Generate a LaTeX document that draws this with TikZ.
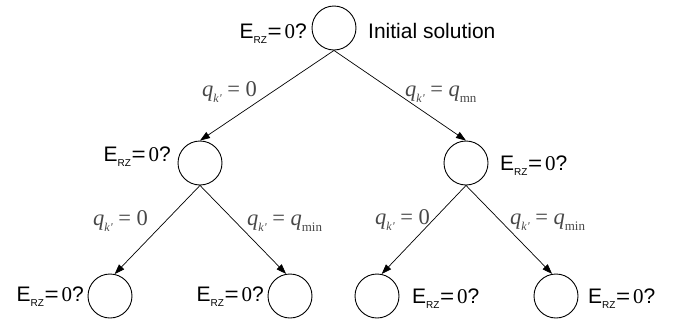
\documentclass[tikz,border=0pt]{standalone}
\usepackage{fontspec}
\setmainfont{Liberation Sans}
\newfontfamily\lblserif{Liberation Serif}
\usetikzlibrary{arrows.meta}
\newcommand\erzlbl{E\raisebox{-0.28em}{\fontsize{10}{10}\selectfont RZ}\kern0.5pt\scalebox{1.15}[1]{=}\kern3pt{\lblserif 0}?}
\newcommand\qkk{{\itshape q}\raisebox{-0.3em}{\fontsize{12}{12}\selectfont\itshape k\kern0.3pt'}}
\tikzset{
  state/.style={circle,draw=black,line width=0.9pt,minimum size=44pt,inner sep=0pt},
  erz/.style={inner sep=0pt,font=\fontsize{21}{25}\selectfont,text=black},
  qlbl/.style={inner sep=0pt,font=\lblserif\fontsize{22.5}{26}\selectfont,text=black!72},
  branch/.style={draw=black,line width=0.7pt,-{Triangle[length=10pt,width=7pt]}}
}
\begin{document}
\begin{tikzpicture}[x=1pt,y=-1pt]
\useasboundingbox (0,0) rectangle (673,322);
% states
\node[state] (root) at (334,28) {};
\node[state] (ml) at (200,163) {};
\node[state] (mr) at (466,163) {};
\node[state] (b1) at (110,296) {};
\node[state] (b2) at (290,296) {};
\node[state] (b3) at (377,296) {};
\node[state] (b4) at (556,296) {};
% state labels
\node[erz,anchor=base east] (lroot) at (307,38) {\erzlbl};
\node[erz,anchor=base west] (linit) at (368,38) {Initial solution};
\node[erz,anchor=base east] (lml) at (171,161) {\erzlbl};
\node[erz,anchor=base west] (lmr) at (500,170) {\erzlbl};
\node[erz,anchor=base east] (lb1) at (84,301) {\erzlbl};
\node[erz,anchor=base east] (lb2) at (264,301) {\erzlbl};
\node[erz,anchor=base west] (lb3) at (412,303) {\erzlbl};
\node[erz,anchor=base west] (lb4) at (588,303) {\erzlbl};
% branches
\draw[branch] (root.south) -- (ml.north);
\draw[branch] (root.south) -- (mr.north);
\draw[branch] (ml.south) -- (b1.78);
\draw[branch] (ml.south) -- (b2.100);
\draw[branch] (mr.south) -- (b3.78);
\draw[branch] (mr.south) -- (b4.100);
% branch labels
\node[qlbl,anchor=base west] (q1) at (202,96) {\qkk\ = 0};
\node[qlbl,anchor=base west] (q2) at (405,96) {\qkk\ = {\itshape q}\raisebox{-0.3em}{\fontsize{13}{13}\selectfont mn}};
\node[qlbl,anchor=base west] (q3) at (93,225) {\qkk\ = 0};
\node[qlbl,anchor=base west] (q4) at (247,225) {\qkk\ = {\itshape q}\raisebox{-0.3em}{\fontsize{13}{13}\selectfont min}};
\node[qlbl,anchor=base west] (q5) at (375,224) {\qkk\ = 0};
\node[qlbl,anchor=base west] (q6) at (510,224) {\qkk\ = {\itshape q}\raisebox{-0.3em}{\fontsize{13}{13}\selectfont min}};
\end{tikzpicture}
\end{document}
